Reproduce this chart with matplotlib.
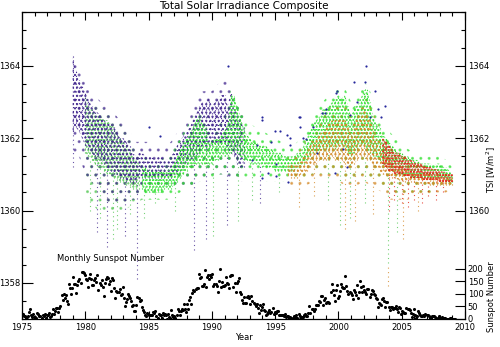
import matplotlib
matplotlib.use("Agg")
import matplotlib.pyplot as plt
import numpy as np

# ---- data (quarter-year bins: year, low, high of the dense cloud) ----
purple_yr = [1979.0, 1979.25, 1979.5, 1979.75, 1980.0, 1980.25, 1980.5, 1980.75, 1981.0, 1981.25,
             1981.5, 1981.75, 1982.0, 1982.25, 1982.5, 1982.75, 1983.0, 1983.25, 1983.5, 1983.75,
             1984.0, 1984.25, 1984.5, 1984.75, 1985.0, 1985.25, 1985.5, 1985.75, 1986.0, 1986.25,
             1986.5, 1986.75, 1987.0, 1987.25, 1987.5, 1987.75, 1988.0, 1988.25, 1988.5, 1988.75,
             1989.0, 1989.25, 1989.5, 1989.75, 1990.0, 1990.25, 1990.5, 1990.75, 1991.0, 1991.25,
             1991.5, 1991.75, 1992.0, 1992.25, 1992.5]
purple_lo = [1362.2, 1362.3, 1362.2, 1362.0, 1361.8, 1361.7, 1361.6, 1361.5, 1361.5, 1361.4,
             1361.3, 1361.2, 1361.1, 1361.0, 1361.0, 1360.9, 1360.9, 1360.8, 1360.8, 1360.8,
             1360.8, 1360.9, 1360.9, 1360.9, 1360.9, 1360.9, 1360.9, 1360.9, 1360.9, 1360.9,
             1360.9, 1360.9, 1361.0, 1361.0, 1361.1, 1361.2, 1361.3, 1361.4, 1361.4, 1361.5,
             1361.6, 1361.8, 1361.7, 1361.8, 1361.8, 1361.9, 1361.8, 1361.9, 1361.9, 1361.7,
             1361.6, 1361.5, 1361.3, 1361.2, 1361.2]
purple_hi = [1364.3, 1363.9, 1363.6, 1363.5, 1363.3, 1363.1, 1362.9, 1362.8, 1362.7, 1362.6,
             1362.5, 1362.4, 1362.4, 1362.3, 1362.2, 1362.0, 1362.0, 1361.9, 1361.8, 1361.6,
             1361.5, 1361.6, 1361.6, 1361.5, 1361.5, 1361.5, 1361.4, 1361.5, 1361.5, 1361.4,
             1361.4, 1361.5, 1361.6, 1361.8, 1361.9, 1362.1, 1362.2, 1362.3, 1362.5, 1362.7,
             1362.9, 1363.0, 1363.0, 1363.1, 1362.9, 1363.0, 1363.1, 1363.2, 1363.2, 1362.9,
             1363.3, 1362.8, 1362.7, 1362.5, 1362.3]

green1_yr = [1980.0, 1980.25, 1980.5, 1980.75, 1981.0, 1981.25, 1981.5, 1981.75, 1982.0, 1982.25,
             1982.5, 1982.75, 1983.0, 1983.25, 1983.5, 1983.75, 1984.0, 1984.25]
green1_lo = [1361.6, 1361.5, 1361.4, 1361.3, 1361.2, 1361.2, 1361.1, 1361.0, 1361.0, 1360.9,
             1360.9, 1360.8, 1360.8, 1360.7, 1360.7, 1360.6, 1360.6, 1360.6]
green1_hi = [1363.2, 1362.9, 1362.8, 1362.7, 1362.6, 1362.6, 1362.5, 1362.5, 1362.4, 1362.3,
             1362.1, 1362.0, 1361.9, 1361.8, 1361.7, 1361.5, 1361.4, 1361.3]

green2_yr = [1984.5, 1984.75, 1985.0, 1985.25, 1985.5, 1985.75, 1986.0, 1986.25, 1986.5, 1986.75,
             1987.0, 1987.25, 1987.5, 1987.75, 1988.0, 1988.25, 1988.5, 1988.75, 1989.0, 1989.25,
             1989.5, 1989.75, 1990.0, 1990.25, 1990.5, 1990.75, 1991.0, 1991.25, 1991.5, 1991.75,
             1992.0, 1992.25, 1992.5, 1992.75, 1993.0, 1993.25, 1993.5, 1993.75, 1994.0, 1994.25,
             1994.5, 1994.75, 1995.0, 1995.25, 1995.5, 1995.75, 1996.0, 1996.25, 1996.5, 1996.75,
             1997.0, 1997.25, 1997.5, 1997.75, 1998.0, 1998.25, 1998.5, 1998.75, 1999.0, 1999.25,
             1999.5, 1999.75, 2000.0, 2000.25, 2000.5, 2000.75, 2001.0, 2001.25, 2001.5, 2001.75,
             2002.0, 2002.25, 2002.5, 2002.75, 2003.0, 2003.25, 2003.5, 2003.75, 2004.0, 2004.25,
             2004.5, 2004.75, 2005.0, 2005.25, 2005.5, 2005.75, 2006.0, 2006.25, 2006.5, 2006.75,
             2007.0, 2007.25, 2007.5, 2007.75, 2008.0, 2008.25, 2008.5, 2008.75, 2009.0]
green2_lo = [1360.6, 1360.5, 1360.5, 1360.5, 1360.5, 1360.5, 1360.5, 1360.6, 1360.6, 1360.6,
             1360.7, 1360.8, 1360.9, 1361.0, 1361.1, 1361.2, 1361.2, 1361.3, 1361.3, 1361.3,
             1361.2, 1361.3, 1361.3, 1361.4, 1361.4, 1361.5, 1361.5, 1361.5, 1361.6, 1361.7,
             1361.6, 1361.5, 1361.4, 1361.4, 1361.3, 1361.3, 1361.3, 1361.3, 1361.2, 1361.2,
             1361.2, 1361.2, 1361.1, 1361.1, 1361.1, 1361.1, 1361.1, 1361.1, 1361.1, 1361.2,
             1361.2, 1361.3, 1361.4, 1361.5, 1361.6, 1361.6, 1361.6, 1361.7, 1361.7, 1361.7,
             1361.8, 1361.7, 1361.8, 1361.8, 1361.7, 1361.6, 1361.5, 1361.6, 1361.7, 1361.8,
             1361.8, 1361.7, 1361.6, 1361.5, 1361.5, 1361.4, 1361.3, 1361.2, 1361.2, 1361.1,
             1361.1, 1361.0, 1361.0, 1361.0, 1361.0, 1360.9, 1360.9, 1360.9, 1360.9, 1360.9,
             1360.9, 1360.9, 1360.9, 1360.9, 1360.9, 1360.9, 1360.8, 1360.8, 1360.8]
green2_hi = [1361.2, 1361.2, 1361.1, 1361.1, 1361.1, 1361.1, 1361.1, 1361.1, 1361.1, 1361.2,
             1361.3, 1361.5, 1361.7, 1361.9, 1362.0, 1362.1, 1362.3, 1362.5, 1362.6, 1362.4,
             1362.3, 1361.9, 1361.9, 1362.0, 1362.0, 1362.1, 1362.2, 1362.4, 1363.2, 1363.2,
             1362.9, 1362.6, 1362.3, 1362.1, 1362.0, 1361.9, 1361.9, 1361.8, 1361.8, 1361.8,
             1361.7, 1361.7, 1361.6, 1361.6, 1361.6, 1361.5, 1361.5, 1361.5, 1361.5, 1361.6,
             1361.6, 1361.8, 1362.0, 1362.2, 1362.4, 1362.5, 1362.6, 1362.8, 1362.8, 1362.9,
             1363.0, 1363.1, 1363.2, 1363.1, 1363.2, 1362.9, 1362.6, 1362.9, 1362.9, 1363.1,
             1363.3, 1363.4, 1363.0, 1362.6, 1362.4, 1362.3, 1362.1, 1362.0, 1361.9, 1361.8,
             1361.7, 1361.6, 1361.6, 1361.5, 1361.5, 1361.4, 1361.4, 1361.4, 1361.3, 1361.3,
             1361.3, 1361.3, 1361.2, 1361.3, 1361.3, 1361.2, 1361.2, 1361.1, 1361.0]

orange_yr = [1996.0, 1996.25, 1996.5, 1996.75, 1997.0, 1997.25, 1997.5, 1997.75, 1998.0, 1998.25,
             1998.5, 1998.75, 1999.0, 1999.25, 1999.5, 1999.75, 2000.0, 2000.25, 2000.5, 2000.75,
             2001.0, 2001.25, 2001.5, 2001.75, 2002.0, 2002.25, 2002.5, 2002.75, 2003.0, 2003.25,
             2003.5, 2003.75, 2004.0, 2004.25, 2004.5, 2004.75, 2005.0, 2005.25, 2005.5, 2005.75,
             2006.0, 2006.25, 2006.5, 2006.75, 2007.0, 2007.25, 2007.5, 2007.75, 2008.0, 2008.25,
             2008.5, 2008.75, 2009.0]
orange_lo = [1361.0, 1360.9, 1360.9, 1360.9, 1361.0, 1361.0, 1361.1, 1361.2, 1361.3, 1361.3,
             1361.4, 1361.4, 1361.4, 1361.4, 1361.5, 1361.4, 1361.4, 1361.4, 1361.3, 1361.2,
             1361.2, 1361.3, 1361.4, 1361.5, 1361.5, 1361.4, 1361.4, 1361.2, 1361.2, 1361.1,
             1361.0, 1361.0, 1360.9, 1360.9, 1360.9, 1360.85, 1360.85, 1360.8, 1360.8, 1360.8,
             1360.8, 1360.75, 1360.75, 1360.75, 1360.75, 1360.7, 1360.7, 1360.7, 1360.7, 1360.7,
             1360.7, 1360.7, 1360.7]
orange_hi = [1361.3, 1361.3, 1361.3, 1361.3, 1361.4, 1361.5, 1361.6, 1361.8, 1361.9, 1362.0,
             1362.1, 1362.2, 1362.3, 1362.4, 1362.5, 1362.5, 1362.6, 1362.5, 1362.5, 1362.3,
             1362.1, 1362.4, 1362.6, 1362.7, 1362.8, 1362.7, 1362.5, 1362.2, 1362.0, 1361.9,
             1361.6, 1361.5, 1361.4, 1361.3, 1361.3, 1361.2, 1361.2, 1361.15, 1361.1, 1361.1,
             1361.05, 1361.05, 1361.0, 1361.0, 1361.0, 1361.0, 1360.95, 1360.95, 1360.95, 1360.9,
             1360.9, 1360.9, 1360.9]

red_yr = [2003.5, 2003.75, 2004.0, 2004.25, 2004.5, 2004.75, 2005.0, 2005.25, 2005.5, 2005.75,
          2006.0, 2006.25, 2006.5, 2006.75, 2007.0, 2007.25, 2007.5, 2007.75, 2008.0, 2008.25,
          2008.5, 2008.75, 2009.0]
red_lo = [1361.3, 1361.2, 1361.1, 1361.1, 1361.0, 1361.0, 1361.0, 1360.95, 1360.95, 1360.9,
          1360.9, 1360.9, 1360.9, 1360.85, 1360.85, 1360.85, 1360.85, 1360.85, 1360.8, 1360.8,
          1360.8, 1360.8, 1360.8]
red_hi = [1362.0, 1361.9, 1361.8, 1361.7, 1361.6, 1361.6, 1361.5, 1361.5, 1361.4, 1361.4,
          1361.35, 1361.3, 1361.3, 1361.25, 1361.2, 1361.2, 1361.15, 1361.15, 1361.1, 1361.1,
          1361.05, 1361.0, 1361.0]

# sparse outer envelope of each cloud (half-year bins)
purple_env_yr = [1979.0, 1979.5, 1980.0, 1980.5, 1981.0, 1981.5, 1982.0, 1982.5, 1983.0, 1983.5,
                 1984.0, 1984.5, 1985.0, 1985.5, 1986.0, 1986.5, 1987.0, 1987.5, 1988.0, 1988.5,
                 1989.0, 1989.5, 1990.0, 1990.5, 1991.0, 1991.5, 1992.0, 1992.5]
purple_env_lo = [1361.5, 1361.5, 1361.0, 1360.8, 1360.5, 1360.3, 1360.2, 1360.2, 1360.2, 1360.3,
                 1360.3, 1360.5, 1360.6, 1360.6, 1360.6, 1360.6, 1360.6, 1360.7, 1360.7, 1360.7,
                 1360.8, 1360.9, 1361.0, 1361.0, 1361.0, 1360.9, 1360.8, 1360.8]
purple_env_hi = [1364.4, 1363.9, 1363.6, 1363.3, 1363.1, 1362.9, 1362.8, 1362.6, 1362.4, 1362.2,
                 1361.9, 1361.9, 1361.9, 1361.8, 1361.8, 1361.8, 1362.0, 1362.3, 1362.5, 1362.8,
                 1363.3, 1363.3, 1363.3, 1363.5, 1363.6, 1363.5, 1363.2, 1362.8]
green1_env_yr = [1980.0, 1980.5, 1981.0, 1981.5, 1982.0, 1982.5, 1983.0, 1983.5, 1984.0, 1984.5]
green1_env_lo = [1360.5, 1360.2, 1360.0, 1359.9, 1359.9, 1360.0, 1360.0, 1360.1, 1360.2, 1360.3]
green1_env_hi = [1363.3, 1363.0, 1362.9, 1362.8, 1362.7, 1362.5, 1362.3, 1362.0, 1361.7, 1361.4]
green2_env_yr = [1984.5, 1985.0, 1985.5, 1986.0, 1986.5, 1987.0, 1987.5, 1988.0, 1988.5, 1989.0,
                 1989.5, 1990.0, 1990.5, 1991.0, 1991.5, 1992.0, 1992.5, 1993.0, 1993.5, 1994.0,
                 1994.5, 1995.0, 1995.5, 1996.0, 1996.5, 1997.0, 1997.5, 1998.0, 1998.5, 1999.0,
                 1999.5, 2000.0, 2000.5, 2001.0, 2001.5, 2002.0, 2002.5, 2003.0, 2003.5, 2004.0,
                 2004.5, 2005.0, 2005.5, 2006.0, 2006.5, 2007.0, 2007.5, 2008.0, 2008.5, 2009.0]
green2_env_lo = [1360.3, 1360.3, 1360.3, 1360.3, 1360.3, 1360.4, 1360.5, 1360.6, 1360.7, 1360.8,
                 1360.8, 1360.9, 1361.0, 1361.0, 1361.0, 1360.9, 1360.9, 1360.9, 1360.9, 1360.8,
                 1360.8, 1360.8, 1360.8, 1360.8, 1360.8, 1360.8, 1360.9, 1361.0, 1361.0, 1361.0,
                 1361.0, 1361.0, 1360.9, 1360.8, 1360.9, 1361.0, 1360.9, 1360.8, 1360.7, 1360.6,
                 1360.5, 1360.5, 1360.5, 1360.5, 1360.5, 1360.5, 1360.5, 1360.6, 1360.6, 1360.6]
green2_env_hi = [1361.5, 1361.4, 1361.4, 1361.4, 1361.5, 1361.7, 1362.0, 1362.3, 1362.6, 1362.9,
                 1362.7, 1362.3, 1362.4, 1362.6, 1363.4, 1363.2, 1362.7, 1362.4, 1362.3, 1362.2,
                 1362.1, 1362.0, 1361.9, 1361.8, 1361.8, 1362.0, 1362.3, 1362.7, 1362.9, 1363.1,
                 1363.3, 1363.4, 1363.4, 1363.0, 1363.2, 1363.6, 1363.3, 1362.8, 1362.4, 1362.2,
                 1362.0, 1361.8, 1361.7, 1361.6, 1361.6, 1361.5, 1361.5, 1361.5, 1361.4, 1361.2]
orange_env_yr = [1996.0, 1996.5, 1997.0, 1997.5, 1998.0, 1998.5, 1999.0, 1999.5, 2000.0, 2000.5,
                 2001.0, 2001.5, 2002.0, 2002.5, 2003.0, 2003.5, 2004.0, 2004.5, 2005.0, 2005.5,
                 2006.0, 2006.5, 2007.0, 2007.5, 2008.0, 2008.5, 2009.0]
orange_env_lo = [1360.6, 1360.6, 1360.6, 1360.7, 1360.8, 1360.9, 1360.9, 1360.9, 1360.8, 1360.7,
                 1360.6, 1360.7, 1360.8, 1360.7, 1360.6, 1360.5, 1360.3, 1360.3, 1360.3, 1360.3,
                 1360.4, 1360.4, 1360.4, 1360.5, 1360.5, 1360.5, 1360.6]
orange_env_hi = [1361.5, 1361.5, 1361.7, 1362.0, 1362.3, 1362.5, 1362.7, 1362.9, 1363.0, 1362.9,
                 1362.6, 1362.9, 1363.2, 1362.9, 1362.5, 1362.1, 1361.8, 1361.6, 1361.5, 1361.4,
                 1361.3, 1361.2, 1361.2, 1361.1, 1361.1, 1361.0, 1361.0]

# dropouts: year, bottom, top of each downward streak
purple_dip_yr = [1979.05, 1980.9, 1981.7, 1983.1, 1984.1, 1988.6, 1989.5, 1991.2, 1993.8]
purple_dip_lo = [1361.2, 1359.4, 1359.0, 1359.3, 1358.1, 1358.9, 1359.2, 1359.6, 1360.2]
purple_dip_hi = [1362.3, 1361.6, 1361.4, 1360.9, 1360.8, 1361.5, 1361.7, 1361.7, 1361.3]
green_dip_yr = [1980.4, 1981.2, 1982.2, 1982.5, 1983.5, 1984.6, 1985.5, 1987.1, 1990.1, 1992.1,
                1993.2, 1995.3, 1999.2, 2000.1, 2000.9, 2002.1, 2003.9, 2004.6]
green_dip_lo = [1360.0, 1359.8, 1359.2, 1359.5, 1359.9, 1359.8, 1360.2, 1360.0, 1359.3, 1359.7,
                1360.3, 1360.5, 1360.3, 1359.6, 1359.8, 1360.2, 1358.55, 1359.4]
green_dip_hi = [1361.4, 1361.2, 1361.0, 1360.9, 1360.7, 1360.6, 1360.5, 1360.7, 1361.5, 1361.6,
                1361.3, 1361.1, 1361.7, 1361.8, 1361.5, 1361.7, 1361.2, 1361.1]
orange_dip_yr = [1996.9, 1998.1, 2000.5, 2001.3, 2002.7, 2003.95, 2005.1, 2006.3]
orange_dip_lo = [1360.1, 1360.4, 1359.5, 1359.7, 1359.9, 1357.9, 1359.2, 1360.0]
orange_dip_hi = [1361.0, 1361.3, 1361.3, 1361.2, 1361.3, 1358.5, 1360.9, 1360.9]
red_dip_yr = [2004.0, 2004.4, 2005.0, 2005.5, 2006.0, 2006.6, 2007.1, 2007.7, 2008.3]
red_dip_lo = [1360.0, 1360.3, 1360.2, 1360.1, 1360.3, 1360.2, 1360.4, 1360.3, 1360.5]
red_dip_hi = [1361.1, 1361.0, 1360.95, 1360.9, 1360.9, 1360.9, 1360.85, 1360.85, 1360.8]

# sparse dark-blue points 1985-2003
blue_yr = [1991.3, 1993.2, 1993.6, 1993.96, 1994.0, 1994.0, 1994.4, 1994.7, 1995.0, 1995.1,
           1995.1, 1995.4, 1995.9, 1996.0, 1996.2, 1996.2, 1996.9, 1997.0, 1997.0, 1997.2,
           1997.4, 1998.0, 1998.3, 1998.7, 1998.9, 1999.0, 1999.7, 1999.8, 1999.9, 2000.4,
           2000.7, 2000.9, 2001.2, 2001.5, 2002.1, 2002.2, 2002.5, 2002.9, 2003.1, 2003.4,
           2003.7, 1985.0, 1985.9]
blue_tsi = [1364.0, 1361.4, 1361.8, 1362.5, 1360.9, 1362.6, 1361.05, 1361.9, 1362.2, 1361.3,
            1360.95, 1362.2, 1362.1, 1360.8, 1362.0, 1361.8, 1362.6, 1362.3, 1362.6, 1362.0,
            1361.97, 1362.3, 1361.6, 1362.7, 1362.7, 1362.8, 1361.05, 1363.25, 1363.3, 1361.7,
            1361.2, 1362.65, 1363.55, 1363.0, 1363.55, 1364.0, 1362.6, 1363.3, 1362.8, 1362.6,
            1362.9, 1362.3, 1362.05]

# monthly sunspot number from Jan 1975
sunspot = [18.9, 11.5, 11.5, 5.1, 9.0, 11.4, 28.2, 39.7, 13.9, 9.1, 19.4, 7.8,
           8.1, 4.3, 21.9, 18.8, 12.4, 12.2, 1.9, 16.4, 13.5, 20.6, 5.2, 15.3,
           16.4, 23.1, 8.7, 12.9, 18.6, 38.5, 21.4, 30.1, 44.0, 43.8, 29.1, 43.2,
           51.9, 93.6, 76.5, 99.7, 82.7, 95.1, 70.4, 58.1, 138.2, 125.1, 97.9, 122.7,
           166.6, 137.5, 138.0, 101.5, 134.4, 149.5, 159.4, 142.2, 188.4, 186.2, 183.3, 176.3,
           159.6, 155.0, 126.2, 164.1, 179.9, 157.3, 136.3, 135.4, 155.0, 164.7, 147.9, 174.4,
           114.0, 141.3, 135.5, 156.4, 127.5, 90.0, 143.8, 158.7, 167.3, 162.4, 137.5, 150.1,
           111.2, 163.6, 153.8, 122.0, 82.2, 110.4, 106.1, 107.6, 118.8, 94.7, 98.1, 127.0,
           84.3, 51.0, 66.5, 80.7, 99.2, 91.1, 82.2, 71.8, 50.3, 55.8, 33.3, 33.4,
           57.0, 85.4, 83.5, 69.7, 76.4, 46.1, 37.4, 25.5, 15.7, 12.0, 22.8, 18.7,
           16.5, 15.9, 17.2, 16.2, 27.5, 24.2, 30.7, 11.1, 3.9, 18.6, 16.2, 17.3,
           2.5, 23.2, 15.1, 18.5, 13.7, 1.1, 18.1, 7.4, 3.8, 35.4, 15.2, 6.8,
           10.4, 2.4, 14.7, 39.6, 33.0, 17.4, 33.0, 38.7, 33.9, 60.6, 39.9, 27.1,
           59.0, 40.0, 76.2, 88.0, 60.1, 101.8, 113.8, 111.6, 120.1, 125.1, 125.1, 179.2,
           161.3, 165.1, 131.4, 130.6, 138.5, 196.2, 126.9, 168.9, 176.7, 159.4, 173.0, 165.5,
           177.3, 130.5, 140.3, 140.3, 132.2, 105.4, 149.4, 200.3, 125.2, 145.5, 131.4, 129.7,
           136.9, 167.5, 141.9, 140.0, 121.3, 169.7, 173.7, 176.3, 125.3, 144.1, 108.2, 144.4,
           150.0, 161.1, 106.7, 99.8, 73.8, 65.2, 85.7, 64.5, 63.9, 88.7, 91.8, 82.6,
           59.3, 91.0, 69.8, 62.2, 61.3, 49.8, 57.9, 42.2, 22.4, 56.4, 35.6, 48.9,
           57.8, 35.5, 31.7, 16.1, 17.8, 28.0, 35.1, 22.5, 25.7, 44.0, 18.0, 26.2,
           24.2, 29.9, 31.1, 14.0, 14.5, 15.6, 14.5, 14.3, 11.8, 21.1, 9.0, 10.0,
           11.5, 4.4, 9.2, 4.8, 5.5, 11.8, 8.2, 14.4, 1.6, 0.9, 17.9, 13.3,
           5.7, 7.6, 8.7, 15.5, 18.5, 12.7, 10.4, 24.4, 51.3, 22.8, 39.0, 41.2,
           31.9, 40.3, 54.8, 53.4, 56.3, 70.7, 66.6, 92.2, 92.9, 55.5, 74.0, 81.9,
           62.0, 66.3, 68.8, 63.7, 106.4, 137.7, 113.5, 93.7, 71.5, 116.7, 133.2, 84.6,
           90.1, 112.9, 138.5, 125.5, 121.6, 124.9, 170.1, 130.5, 109.7, 99.4, 106.8, 104.4,
           95.6, 80.6, 113.5, 107.7, 96.6, 134.0, 81.8, 106.4, 150.7, 125.5, 106.5, 132.2,
           114.1, 107.4, 98.4, 120.7, 120.8, 88.3, 99.6, 116.4, 109.6, 97.5, 95.0, 81.6,
           79.5, 46.2, 61.5, 60.0, 55.2, 77.4, 83.3, 72.7, 48.7, 65.5, 67.3, 46.5,
           37.3, 45.8, 49.1, 39.3, 41.5, 43.2, 51.1, 40.9, 27.7, 48.0, 43.5, 17.9,
           31.3, 29.2, 24.5, 24.4, 42.6, 39.6, 39.9, 36.4, 22.1, 8.5, 18.0, 41.2,
           15.3, 4.9, 10.6, 30.2, 22.3, 13.9, 12.2, 12.9, 14.4, 10.5, 21.4, 13.6,
           16.9, 10.6, 4.8, 3.7, 11.7, 12.0, 10.0, 6.2, 2.4, 0.9, 1.7, 10.1,
           3.4, 2.1, 9.3, 2.9, 2.9, 3.1, 0.5, 0.5, 1.1, 2.9, 4.1, 0.8,
           1.5, 1.4, 0.7]

PURPLE = "#452a90"
GREEN1 = "#55c855"
GREEN2 = "#2ee02e"
ORANGE = "#d48a2a"
RED = "#e4261a"
BLUE = "#26279c"

plt.rcParams["font.family"] = "DejaVu Sans"
plt.rcParams["hatch.linewidth"] = 1.0
fig = plt.figure(figsize=(5.0, 3.47), dpi=100)
ax = fig.add_axes([0.044, 0.081, 0.886, 0.885])


def cloud(yr, lo, hi, color, hatch="......", lw=0.8):
	# speckled band: hatch dots plus thin dotted day-columns for ragged texture
	ax.fill_between(yr, lo, hi, facecolor="none", edgecolor=color, hatch=hatch,
	                linewidth=0, zorder=2)
	ax.vlines(yr, lo, hi, colors=color, linewidth=lw, linestyles=(0, (1, 2.5)), zorder=2)


def halo(yr, lo, hi, color):
	ax.fill_between(yr, lo, hi, facecolor="none", edgecolor=color, hatch="..",
	                linewidth=0, alpha=0.6, zorder=1)


def dips(yr, lo, hi, color):
	ax.vlines(yr, lo, hi, colors=color, linewidth=0.8, linestyles=(0, (1, 3)), alpha=0.8, zorder=1)


halo(green1_env_yr, green1_env_lo, green1_env_hi, GREEN1)
halo(purple_env_yr, purple_env_lo, purple_env_hi, PURPLE)
halo(green2_env_yr, green2_env_lo, green2_env_hi, GREEN2)
halo(orange_env_yr, orange_env_lo, orange_env_hi, ORANGE)

dips(purple_dip_yr, purple_dip_lo, purple_dip_hi, PURPLE)
dips(green_dip_yr, green_dip_lo, green_dip_hi, GREEN1)
dips(orange_dip_yr, orange_dip_lo, orange_dip_hi, ORANGE)
dips(red_dip_yr, red_dip_lo, red_dip_hi, RED)

cloud(green1_yr, green1_lo, green1_hi, GREEN1, hatch=".....")
cloud(purple_yr, purple_lo, purple_hi, PURPLE, hatch="....")
cloud(green2_yr, green2_lo, green2_hi, GREEN2, hatch=".....")
cloud(orange_yr, orange_lo, orange_hi, ORANGE, hatch="....")
cloud(red_yr, red_lo, red_hi, RED, hatch="......", lw=1.2)
ax.scatter(blue_yr, blue_tsi, s=2.5, color=BLUE, linewidths=0, zorder=3)

ax.set_xlim(1975, 2010)
ax.set_ylim(1357, 1365.5)
ax.set_xticks(range(1975, 2011, 5))
ax.set_xticks(range(1975, 2011), minor=True)
ax.set_yticks([1358, 1360, 1362, 1364])
ax.set_yticks(np.arange(1357, 1365.6, 0.5), minor=True)
ax.tick_params(which="both", direction="in", top=True, right=False, labelsize=6, pad=3, width=0.8)
ax.tick_params(which="major", length=6)
ax.tick_params(which="minor", length=3)
ax.tick_params(axis="y", which="major", length=8, pad=1.5)
ax.set_xlabel("Year", fontsize=6, labelpad=1)
ax.set_title("Total Solar Irradiance Composite", fontsize=7.5, pad=2)
for s in ax.spines.values():
	s.set_linewidth(0.9)

ax.text(1982.0, 1358.67, "Monthly Sunspot Number", fontsize=6, ha="center", va="center")

# right axis: TSI ticks
ax_r = ax.twinx()
ax_r.set_ylim(1357, 1365.5)
ax_r.set_yticks([1360, 1362, 1364])
ax_r.set_yticks(np.arange(1360.5, 1365.6, 0.5), minor=True)
ax_r.tick_params(which="both", direction="in", labelsize=6, pad=2, width=0.8)
ax_r.tick_params(which="major", length=7)
ax_r.tick_params(which="minor", length=3)
for s in ax_r.spines.values():
	s.set_visible(False)

# right axis: sunspot scale (200 spots = 1.39 W/m2)
ax_s = ax.twinx()
ax_s.set_ylim(0, 8.5 * 144)
months = 1975 + (np.arange(len(sunspot)) + 0.5) / 12
ax_s.scatter(months, sunspot, s=5, color="black", linewidths=0, zorder=4)
ax_s.set_yticks([0, 50, 100, 150, 200])
ax_s.tick_params(direction="in", length=7, width=0.8, labelsize=6, pad=2)
for s in ax_s.spines.values():
	s.set_visible(False)

fig.text(0.982, 0.51, "TSI [W/m$^2$]", rotation=90, fontsize=6, ha="center", va="center")
fig.text(0.982, 0.145, "Sunspot Number", rotation=90, fontsize=6, ha="center", va="center")

fig.savefig("out.png", dpi=100)
